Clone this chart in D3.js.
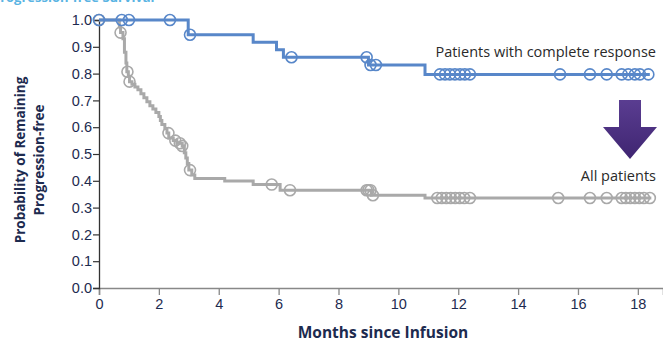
<!DOCTYPE html>
<html>
<head>
<meta charset="utf-8">
<script src="https://cdn.jsdelivr.net/npm/d3@7"></script>
<style>
  body { margin: 0; background: #fff; }
  svg { display: block; font-family: "Open Sans", "Noto Sans", sans-serif; }
</style>
</head>
<body>
<div id="chart"></div>
<script>
// Kaplan-Meier step points: [month, survival after step]
const completeSteps = [[0, 1.0], [2.98, 0.945], [5.15, 0.917], [5.93, 0.889], [6.16, 0.861], [9.0, 0.832], [10.89, 0.797], [18.4, 0.797]];
const completeCensors = [0.0, 0.76, 1.0, 2.37, 3.04, 6.43, 8.94, 9.07, 9.25, 11.39, 11.56, 11.72, 11.89, 12.06, 12.22, 12.39, 15.4, 16.4, 16.96, 17.46, 17.68, 17.9, 18.07, 18.35];

const allSteps = [[0, 1.0], [0.68, 0.975], [0.72, 0.953], [0.8, 0.93], [0.85, 0.88], [0.9, 0.84], [0.93, 0.807], [0.98, 0.79], [1.02, 0.77],
  [1.1, 0.76], [1.2, 0.75], [1.3, 0.74], [1.4, 0.725], [1.5, 0.71], [1.6, 0.695], [1.7, 0.68], [1.8, 0.668], [1.9, 0.655], [2.0, 0.64],
  [2.05, 0.625], [2.1, 0.61], [2.2, 0.595], [2.27, 0.578], [2.33, 0.56], [2.48, 0.55], [2.6, 0.54], [2.78, 0.53], [2.85, 0.505],
  [2.9, 0.485], [2.95, 0.465], [3.0, 0.44], [3.1, 0.422], [3.2, 0.409], [4.2, 0.399], [5.15, 0.386], [6.05, 0.365], [9.1, 0.346],
  [10.89, 0.336], [18.45, 0.336]];
const allCensors = [0.0, 0.72, 0.95, 1.02, 2.32, 2.55, 2.7, 2.78, 3.04, 5.77, 6.38, 8.94, 9.0, 9.07, 9.15, 11.3, 11.45, 11.6, 11.75, 11.9, 12.05, 12.2, 12.39, 15.34, 16.4, 16.96, 17.46, 17.6, 17.75, 17.9, 18.05, 18.2, 18.4];

const xTicks = [0, 2, 4, 6, 8, 10, 12, 14, 16, 18];
const yTicks = [0, 0.1, 0.2, 0.3, 0.4, 0.5, 0.6, 0.7, 0.8, 0.9, 1.0];

const width = 663, height = 343;
const blue = '#5887c9', gray = '#a9a9a9', navy = '#1d2b4f';

const svg = d3.select('#chart').append('svg')
  .attr('width', width)
  .attr('height', height);

const x = d3.scaleLinear().domain([0, 18.84]).range([99, 663]);
const y = d3.scaleLinear().domain([0, 1]).range([288, 20]);

// panel title, cut off by the top edge as in the source image
svg.append('text')
  .attr('x', -8).attr('y', 2)
  .attr('font-size', 13).attr('font-weight', 700)
  .attr('fill', '#5ab4e3')
  .text('Progression-free Survival');

// Axes
const xAxis = svg.append('g')
  .attr('transform', `translate(0,${y(0)})`)
  .call(d3.axisBottom(x).tickValues(xTicks).tickSize(7).tickPadding(4).tickFormat(d3.format('d')));
xAxis.select('.domain').attr('stroke', '#888').attr('stroke-width', 1.5);
xAxis.selectAll('.tick line').attr('stroke', '#888').attr('stroke-width', 1.3);
xAxis.selectAll('.tick text').attr('font-size', 14.5).attr('fill', navy);

const yAxis = svg.append('g')
  .attr('transform', `translate(${x(0)},0)`)
  .call(d3.axisLeft(y).tickValues(yTicks).tickSize(6).tickPadding(1).tickFormat(d3.format('.1f')));
yAxis.select('.domain').attr('stroke', '#333').attr('stroke-width', 1.3);
yAxis.selectAll('.tick line').attr('stroke', '#333').attr('stroke-width', 1.2);
yAxis.selectAll('.tick text').attr('font-size', 14.5).attr('fill', navy);

// Axis titles
svg.append('text')
  .attr('x', 383).attr('y', 338)
  .attr('text-anchor', 'middle')
  .attr('font-size', 15.5).attr('font-weight', 700).attr('fill', navy)
  .text('Months since Infusion');

const yTitle = svg.append('text')
  .attr('transform', 'translate(25,160) rotate(-90)')
  .attr('text-anchor', 'middle')
  .attr('font-size', 13.5).attr('font-weight', 700).attr('fill', navy);
yTitle.append('tspan').attr('x', 0).attr('dy', 0).text('Probability of Remaining');
yTitle.append('tspan').attr('x', 0).attr('dy', 19).text('Progression-free');

// Curves
const line = d3.line().x(d => x(d[0])).y(d => y(d[1])).curve(d3.curveStepAfter);
const survAt = (steps, t) => {
  let v = steps[0][1];
  steps.forEach(s => { if (s[0] <= t) v = s[1]; });
  return v;
};

function drawCurve(steps, censors, color) {
  const g = svg.append('g');
  g.append('path')
    .datum(steps)
    .attr('d', line)
    .attr('fill', 'none')
    .attr('stroke', color)
    .attr('stroke-width', 3);
  g.selectAll('circle')
    .data(censors)
    .enter().append('circle')
    .attr('cx', d => x(d))
    .attr('cy', d => y(survAt(steps, d)))
    .attr('r', 5.5)
    .attr('fill', 'none')
    .attr('stroke', color)
    .attr('stroke-width', 1.6);
}

drawCurve(allSteps, allCensors, gray);
drawCurve(completeSteps, completeCensors, blue);

// Curve labels
svg.append('text')
  .attr('x', 656).attr('y', 57)
  .attr('text-anchor', 'end')
  .attr('font-size', 14.5).attr('fill', '#2a2a2a')
  .text('Patients with complete response');

svg.append('text')
  .attr('x', 656).attr('y', 181)
  .attr('text-anchor', 'end')
  .attr('font-size', 14.5).attr('fill', '#2a2a2a')
  .text('All patients');

// Purple arrow
const defs = svg.append('defs');
const grad = defs.append('linearGradient').attr('id', 'arrowGrad')
  .attr('x1', 0).attr('y1', 0).attr('x2', 0).attr('y2', 1);
grad.append('stop').attr('offset', '0%').attr('stop-color', '#5a3d91');
grad.append('stop').attr('offset', '100%').attr('stop-color', '#3f2571');

svg.append('path')
  .attr('d', 'M619,100 L641,100 L641,127 L657,127 L630,159 L603,127 L619,127 Z')
  .attr('fill', 'url(#arrowGrad)');
</script>
</body>
</html>
